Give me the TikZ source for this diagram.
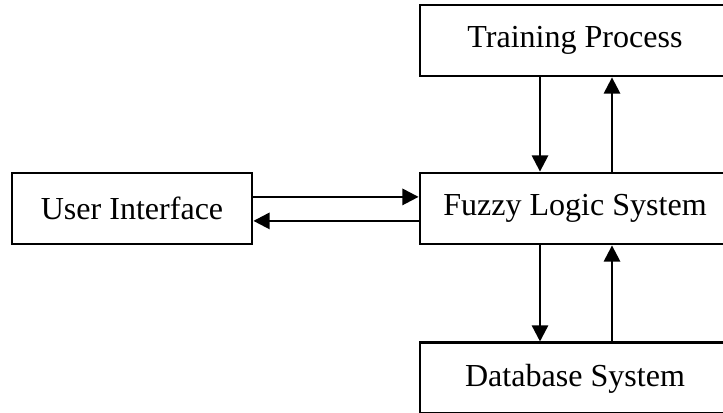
\documentclass[tikz,border=0pt]{standalone}
\usepackage{fontspec}
\setmainfont{Liberation Serif}
\usepackage{tikz}
\usetikzlibrary{positioning, calc, arrows.meta}

\begin{document}
\begin{tikzpicture}[
	blockbox/.style={draw, line width=2pt, rectangle, inner sep=0pt, minimum width=7.75cm, minimum height=1.775cm, font=\fontsize{22.8}{27}\selectfont},
	flow/.style={line width=1.7pt, -{Triangle[width=11.5pt, length=11.5pt]}}
	]
		
		%//page is 18.075 x 10.3, right hand boxes run off the edge
		\clip (0,0) rectangle (18.075,10.3);
		
		\node [blockbox] (train) at (14.375, 9.2875) {Training Process};
		\node [blockbox] (fuzzy) at (14.375, 5.0875) {Fuzzy Logic System};
		\node [blockbox] (db) at (14.375, 0.84) {Database System};
		\node [blockbox, minimum width=6cm] (ui) at (3.3, 5.0875) {User Interface};
		
		%//user interface <-> fuzzy logic
		\draw [flow] ([yshift=0.29cm]ui.east) -- ([yshift=0.29cm]fuzzy.west);
		\draw [flow] ([yshift=-0.31cm]fuzzy.west) -- ([yshift=-0.31cm]ui.east);
		
		%//training and database links
		\draw [flow] ([xshift=-0.875cm]train.south) -- ([xshift=-0.875cm]fuzzy.north);
		\draw [flow] ([xshift=0.925cm]fuzzy.north) -- ([xshift=0.925cm]train.south);
		\draw [flow] ([xshift=-0.875cm]fuzzy.south) -- ([xshift=-0.875cm]db.north);
		\draw [flow] ([xshift=0.925cm]db.north) -- ([xshift=0.925cm]fuzzy.south);
		
		\end{tikzpicture}
\end{document}
